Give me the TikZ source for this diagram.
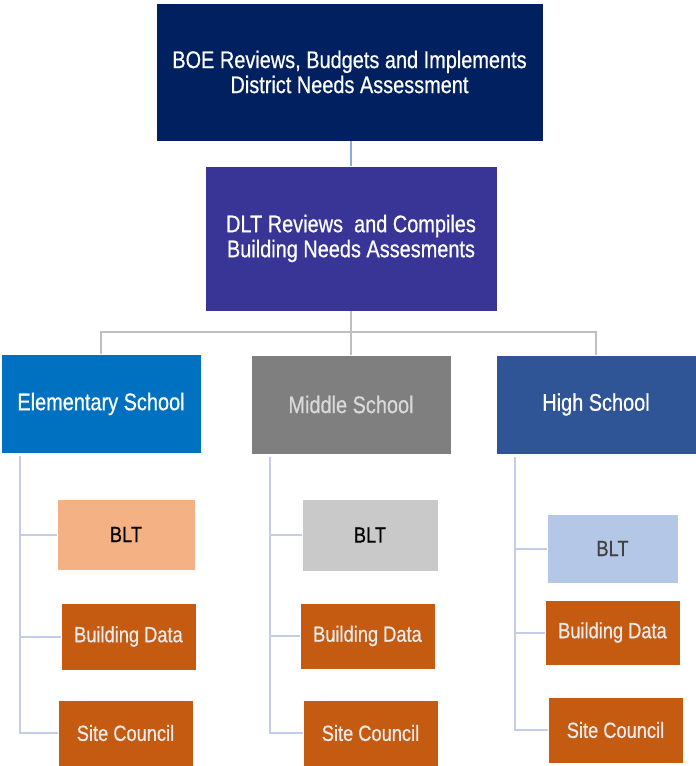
\documentclass[tikz,border=0pt]{standalone}
\usepackage{fontspec}
\setmainfont{Liberation Sans}[FakeStretch=0.83, FakeBold=0.6]
\usetikzlibrary{positioning}
\definecolor{boeblue}{HTML}{002060}
\definecolor{dltblue}{HTML}{383597}
\definecolor{elemblue}{HTML}{0070C0}
\definecolor{midgray}{HTML}{7F7F7F}
\definecolor{highblue}{HTML}{2F5597}
\definecolor{eblt}{HTML}{F4B183}
\definecolor{mblt}{HTML}{C9C9C9}
\definecolor{hblt}{HTML}{B4C7E7}
\definecolor{rust}{HTML}{C55A11}
\definecolor{linkblue}{HTML}{8FAADC}
\definecolor{linkgray}{HTML}{BFBFBF}
\definecolor{trunk}{HTML}{C5CCE8}
\tikzstyle{head} = [rectangle, text centered, align=center, draw=white, thin, text=white, font=\fontsize{24}{25}\selectfont]
\tikzstyle{school} = [rectangle, minimum width=200pt, minimum height=99pt, text centered, draw=white, thin, text=white, font=\fontsize{24}{25}\selectfont]
\tikzstyle{leaf} = [rectangle, minimum width=135pt, minimum height=66pt, text centered, draw=white, thin, fill=rust, text=white!92!black, font=\fontsize{22}{24}\selectfont]
\tikzstyle{blt} = [leaf, text=black]
\tikzstyle{bus} = [line width=2pt, linkgray]
\tikzstyle{branch} = [line width=2pt, trunk]

\begin{document}
\begin{tikzpicture}[x=1pt, y=-1pt]
        \useasboundingbox (0,0) rectangle (696,766);
        \node (boe) [head, fill=boeblue, minimum width=387pt, minimum height=138pt] at (349.5,72) {BOE Reviews, Budgets and Implements\\District Needs Assessment};
        \node (dlt) [head, fill=dltblue, minimum width=292pt, minimum height=145pt] at (351,238.5) {DLT Reviews\ \ and Compiles\\Building Needs Assesments};
        \node (elem) [school, fill=elemblue] at (101,404) {Elementary School};
        \node (mid) [school, fill=midgray, text=white!85!black] at (351,404.5) {Middle School};
        \node (high) [school, fill=highblue] at (596,404.5) {High School};

        % elementary branch
        \node (ebl) [blt, fill=eblt, minimum width=138pt, minimum height=71pt] at (126,534.5) {BLT};
        \node (ebd) [leaf, minimum height=67pt] at (128.5,636.5) {Building Data};
        \node (esc) [leaf] at (125.5,733) {Site Council};
        % middle branch
        \node (mbl) [blt, fill=mblt, minimum width=136pt, minimum height=72pt] at (370,535) {BLT};
        \node (mbd) [leaf] at (367.5,636) {Building Data};
        \node (msc) [leaf] at (370.5,733) {Site Council};
        % high branch
        \node (hbl) [blt, fill=hblt, text=black!75, minimum width=131pt, minimum height=69pt] at (612.5,548.5) {BLT};
        \node (hbd) [leaf, minimum height=65pt] at (612.5,632.5) {Building Data};
        \node (hsc) [leaf] at (615.5,730) {Site Council};

        \coordinate (bus) at (351,332);
        \coordinate (etop) at (20,456);
        \coordinate (mtop) at (270,457);
        \coordinate (htop) at (515,457);

        % top links
        \draw [line width=2pt, linkblue] (boe.south -| dlt.north) -- (dlt.north);
        \draw [bus] (dlt.south) -- (bus);
        \draw [bus] (bus) -| (elem.north);
        \draw [bus] (bus) -- (mid.north);
        \draw [bus] (bus) -| (high.north);

        % school trunks
        \draw [branch] (etop) |- (ebl.west);
        \draw [branch] (etop) |- (ebd.west);
        \draw [branch] (etop) |- (esc.west);
        \draw [branch] (mtop) |- (mbl.west);
        \draw [branch] (mtop) |- (mbd.west);
        \draw [branch] (mtop) |- (msc.west);
        \draw [branch] (htop) |- (hbl.west);
        \draw [branch] (htop) |- (hbd.west);
        \draw [branch] (htop) |- (hsc.west);
    \end{tikzpicture}
\end{document}
